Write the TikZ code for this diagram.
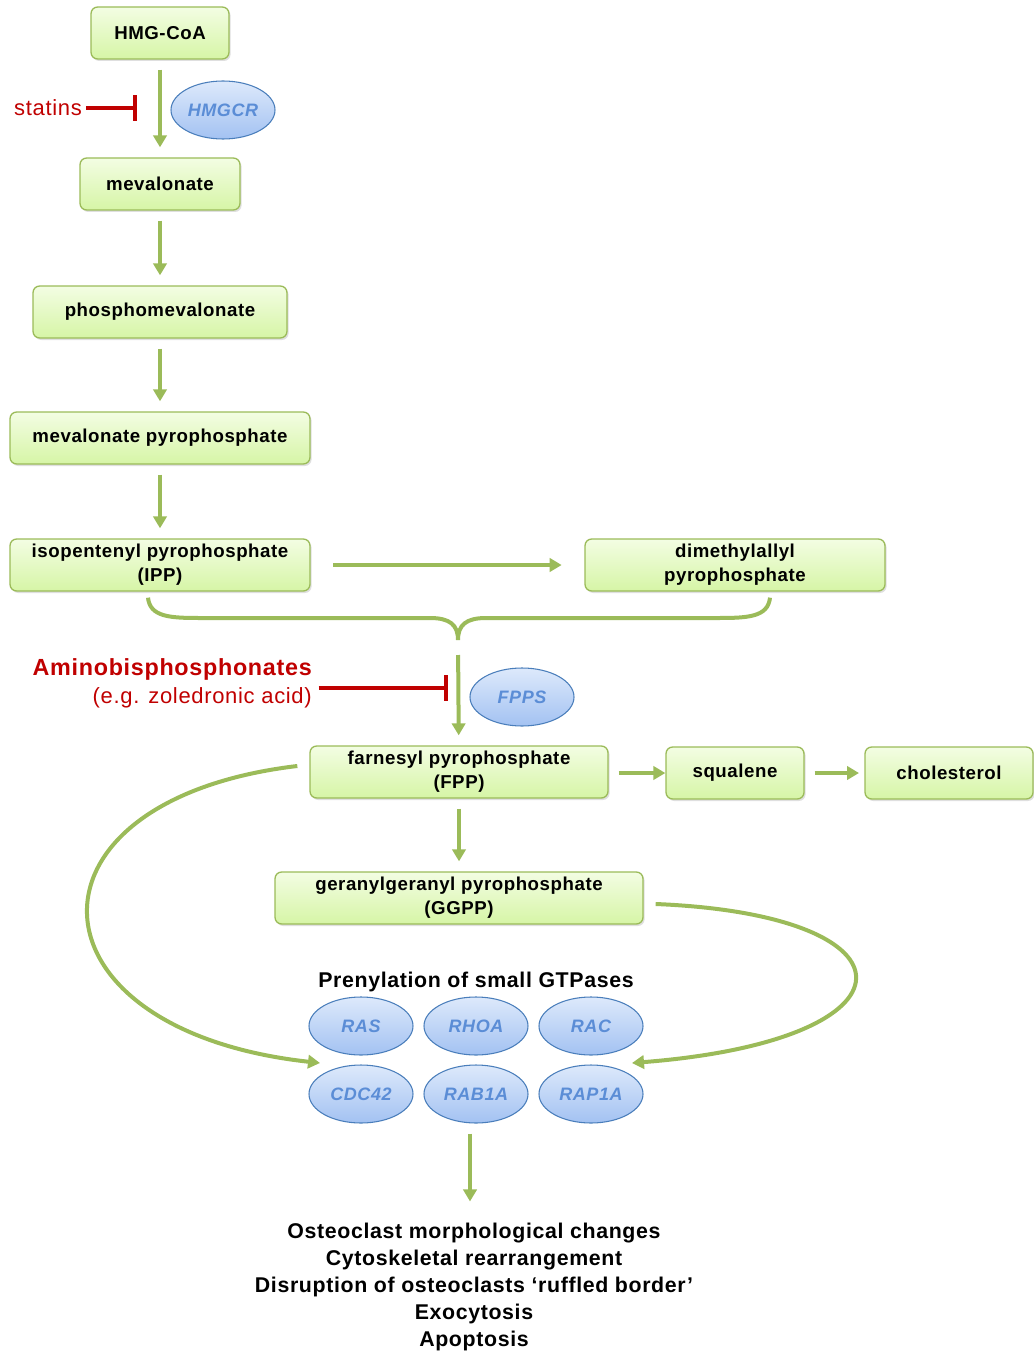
\documentclass[tikz,border=0pt]{standalone}
\usepackage{fontspec}
\setmainfont{Liberation Sans}[LetterSpace=3]
\usetikzlibrary{arrows.meta,shadows,shapes.geometric}
\definecolor{boxtop}{HTML}{F3FDE3}
\definecolor{boxbot}{HTML}{D6F5A6}
\definecolor{boxline}{HTML}{9BBB59}
\definecolor{flowgreen}{HTML}{9BBB59}
\definecolor{enztop}{HTML}{DDE9FB}
\definecolor{enzbot}{HTML}{A3C2F2}
\definecolor{enzline}{HTML}{4A7EBB}
\definecolor{enztext}{HTML}{5B8DD6}
\definecolor{inhred}{HTML}{C00000}
\tikzset{
  metab/.style={rectangle, rounded corners=5pt, draw=boxline, line width=1pt,
    top color=boxtop, bottom color=boxbot, align=center, inner sep=2pt,
    minimum height=39pt, font=\bfseries\fontsize{14}{18}\selectfont,
    drop shadow={shadow xshift=1.2pt, shadow yshift=-1.5pt, opacity=0.25}},
  enzyme/.style={ellipse, draw=enzline, line width=0.8pt, top color=enztop,
    bottom color=enzbot, minimum width=78pt, minimum height=43.5pt, inner sep=0pt,
    text=enztext, font=\bfseries\itshape\fontsize{13.5}{15}\selectfont},
  flow/.style={-{Triangle[length=9pt,width=10pt]}, draw=flowgreen, line width=3pt,
    shorten <=7.5pt, shorten >=7.5pt},
  inhib/.style={-{Bar[width=19pt]}, draw=inhred, line width=3pt},
  joinline/.style={draw=flowgreen, line width=3pt},
  drug/.style={text=inhred, font=\fontsize{16.5}{21}\selectfont},
  headline/.style={font=\bfseries\fontsize{16}{20.25}\selectfont, align=center},
}
\begin{document}
\begin{tikzpicture}[x=0.75pt, y=-0.75pt]
    \useasboundingbox (0,0) rectangle (1034,1355);
    \node[metab, minimum width=103.5pt] (hmgcoa) at (160,33) {HMG-CoA};
    \node[metab, minimum width=120pt] (mev) at (160,184) {mevalonate};
    \node[metab, minimum width=190.5pt] (pmev) at (160,312) {phosphomevalonate};
    \node[metab, minimum width=225pt] (mevpp) at (160,438) {mevalonate pyrophosphate};
    \node[metab, minimum width=225pt] (ipp) at (160,565) {isopentenyl pyrophosphate\\(IPP)};
    \node[metab, minimum width=225pt] (dmapp) at (735,565) {dimethylallyl\\pyrophosphate};
    \node[metab, minimum width=223.5pt] (fpp) at (459,772) {farnesyl pyrophosphate\\(FPP)};
    \node[metab, minimum width=103.5pt] (squal) at (735,773) {squalene};
    \node[metab, minimum width=126pt] (chol) at (949,773) {cholesterol};
    \node[metab, minimum width=276pt] (ggpp) at (459,898) {geranylgeranyl pyrophosphate\\(GGPP)};
    \node[enzyme] (hmgcr) at (223,110) {HMGCR};
    \node[enzyme] (fpps) at (522,697) {FPPS};
    \node[drug] (statins) at (48,108) {statins};
    \node[drug, anchor=east, align=right, inner sep=0pt] (bisph) at (312,683)
      {\bfseries\fontsize{17.5}{21}\selectfont Aminobisphosphonates\\(e.g. zoledronic acid)};
    \coordinate (statbar) at (137,108);
    \coordinate (fppsbar) at (448,688);
    \coordinate (join) at (458,640);
    \node[headline] (prenyl) at (476,982) {Prenylation of small GTPases};
    \node[enzyme] (ras) at (361,1026) {RAS};
    \node[enzyme] (rhoa) at (476,1026) {RHOA};
    \node[enzyme] (rac) at (591,1026) {RAC};
    \node[enzyme] (cdc42) at (361,1094) {CDC42};
    \node[enzyme] (rab1a) at (476,1094) {RAB1A};
    \node[enzyme] (rap1a) at (591,1094) {RAP1A};
    \coordinate (gtpL) at (320,1063);
    \coordinate (gtpR) at (632,1063);
    \node[headline, inner sep=0pt] (outcome) at (474,1287)
      {Osteoclast morphological changes\\Cytoskeletal rearrangement\\Disruption of osteoclasts ‘ruffled border’\\Exocytosis\\Apoptosis};
    \draw[flow] (hmgcoa) -- (mev);
    \draw[flow] (mev) -- (pmev);
    \draw[flow] (pmev) -- (mevpp);
    \draw[flow] (mevpp) -- (ipp);
    \draw[flow, shorten <=17pt, shorten >=17pt] (ipp) -- (dmapp);
    \draw[inhib] (statins.east) -- (statbar);
    \draw[joinline] ([shift={(-12,6)}]ipp.south) .. controls (150,617) and (170,618) .. (200,618)
      -- (430,618) .. controls (450,618) and (458,625) .. (join);
    \draw[joinline] ([shift={(35,6)}]dmapp.south) .. controls (768,617) and (748,618) .. (718,618)
      -- (486,618) .. controls (466,618) and (458,625) .. (join);
    \draw[flow, shorten <=11.25pt] (join) -- (fpp);
    \draw[inhib, shorten <=5pt] (bisph.east |- fppsbar) -- (fppsbar);
    \draw[flow, shorten >=0pt] (fpp.east |- squal) -- (squal);
    \draw[flow, shorten >=4pt] (squal) -- (chol);
    \draw[flow] (fpp) -- (ggpp);
    \draw[flow, shorten <=0pt, shorten >=0pt] ([shift={(-12,-6)}]fpp.west) .. controls (10,800) and (20,1030) .. (gtpL);
    \draw[flow, shorten <=0pt, shorten >=0pt] ([shift={(12,6)}]ggpp.east) .. controls (925,915) and (925,1040) .. (gtpR);
    \draw[flow, shorten >=16pt] ([xshift=-4.5pt]rab1a.south) -- ([xshift=-3pt]outcome.north);
  \end{tikzpicture}
\end{document}
